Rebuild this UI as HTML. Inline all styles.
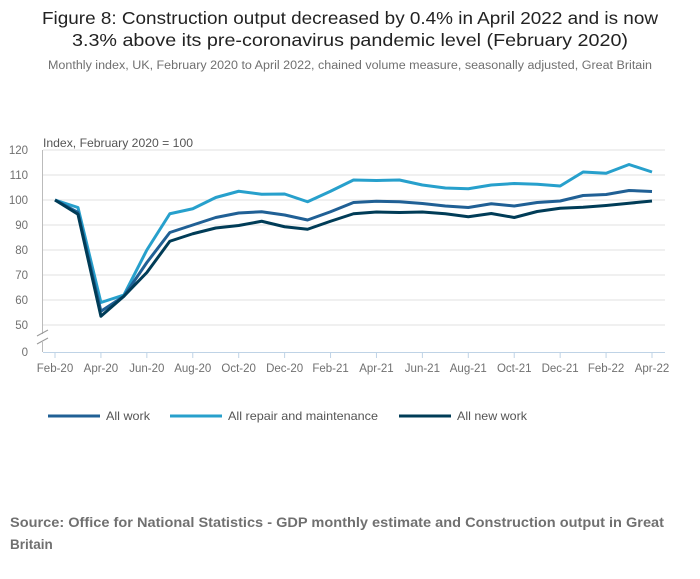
<!DOCTYPE html>
<html><head><meta charset="utf-8"><style>
body{margin:0;background:#fff;width:700px;height:574px;overflow:hidden;font-family:"Liberation Sans",sans-serif;}
</style></head><body>
<svg width="700" height="574" xmlns="http://www.w3.org/2000/svg">
<text x="350" y="24" text-anchor="middle" font-size="17.5" fill="#222" textLength="616" lengthAdjust="spacingAndGlyphs">Figure 8: Construction output decreased by 0.4% in April 2022 and is now</text>
<text x="350" y="46" text-anchor="middle" font-size="17.5" fill="#222" textLength="556" lengthAdjust="spacingAndGlyphs">3.3% above its pre-coronavirus pandemic level (February 2020)</text>
<text x="350" y="69" text-anchor="middle" font-size="11.5" fill="#707070" textLength="604" lengthAdjust="spacingAndGlyphs">Monthly index, UK, February 2020 to April 2022, chained volume measure, seasonally adjusted, Great Britain</text>
<text x="43" y="147" font-size="12" fill="#555" textLength="150" lengthAdjust="spacingAndGlyphs">Index, February 2020 = 100</text>
<g id="grid"></g><g id="lines"></g><g id="xaxis"></g>
<g>
<line x1="48" y1="416" x2="100" y2="416" stroke="#206095" stroke-width="3"/><text x="106" y="420" font-size="12" fill="#555" textLength="44" lengthAdjust="spacingAndGlyphs">All work</text>
<line x1="170" y1="416" x2="222" y2="416" stroke="#27a0cc" stroke-width="3"/><text x="228" y="420" font-size="12" fill="#555" textLength="150" lengthAdjust="spacingAndGlyphs">All repair and maintenance</text>
<line x1="399" y1="416" x2="451" y2="416" stroke="#003c57" stroke-width="3"/><text x="457" y="420" font-size="12" fill="#555" textLength="70" lengthAdjust="spacingAndGlyphs">All new work</text>
</g>
<text x="10" y="527" font-size="13.5" font-weight="bold" fill="#707070" textLength="654" lengthAdjust="spacingAndGlyphs">Source: Office for National Statistics - GDP monthly estimate and Construction output in Great</text>
<text x="10" y="549" font-size="13.5" font-weight="bold" fill="#707070">Britain</text>
</svg>
<script>
const months=["Feb-20","Mar-20","Apr-20","May-20","Jun-20","Jul-20","Aug-20","Sep-20","Oct-20","Nov-20","Dec-20","Jan-21","Feb-21","Mar-21","Apr-21","May-21","Jun-21","Jul-21","Aug-21","Sep-21","Oct-21","Nov-21","Dec-21","Jan-22","Feb-22","Mar-22","Apr-22"];
const repair=[100,97,59,62,80,94.5,96.5,101,103.5,102.3,102.4,99.3,103.5,108,107.8,108,106,104.8,104.5,106,106.6,106.3,105.6,111.2,110.7,114.2,111.2];
const allWork=[100,95,55.5,61.5,75,87,90,93,94.8,95.3,94,92,95.3,99,99.5,99.3,98.6,97.6,97,98.5,97.6,99,99.6,101.8,102.2,103.8,103.4];
const newWork=[100,94.3,53.5,61.5,71,83.5,86.5,88.8,89.8,91.5,89.3,88.3,91.5,94.5,95.2,95,95.2,94.5,93.3,94.6,93,95.4,96.7,97.1,97.8,98.7,99.6];
const yTicks=[120,110,100,90,80,70,60,50];
const NS="http://www.w3.org/2000/svg";
const x=i=>55+i*(652-55)/26;
const y=v=>v===0?352:150+(120-v)*2.5;
function mk(t,a,p){const e=document.createElementNS(NS,t);for(const k in a)e.setAttribute(k,a[k]);p.appendChild(e);return e;}
const grid=document.getElementById('grid');
yTicks.forEach(v=>{
 const l=mk('line',{x1:43,x2:665,y1:y(v),y2:y(v),stroke:'#e0e0e0'},grid);
 
 
 const t=mk('text',{x:28,y:y(v)+4,'text-anchor':'end','font-size':11.5,fill:'#707070'},grid);
 
 
 t.textContent=v;
});
const z=mk('text',{x:28,y:356,'text-anchor':'end','font-size':11.5,fill:'#707070'},grid);


z.textContent='0';
mk('line',{x1:42.5,x2:42.5,y1:150,y2:334,stroke:'#bbb'},grid);
mk('line',{x1:42.5,x2:42.5,y1:342,y2:352,stroke:'#bbb'},grid);
mk('line',{x1:37,x2:48,y1:336,y2:330,stroke:'#999'},grid);
mk('line',{x1:37,x2:48,y1:344,y2:338,stroke:'#999'},grid);
const xa=document.getElementById('xaxis');
mk('line',{x1:43,x2:665,y1:352.5,y2:352.5,stroke:'#bfd3e6'},xa);
months.forEach((m,i)=>{if(i%2)return;
 mk('line',{x1:x(i),x2:x(i),y1:352,y2:358,stroke:'#bfd3e6'},xa);
 const t=mk('text',{x:x(i),y:372,'text-anchor':'middle','font-size':11.5,fill:'#707070'},xa);
 
 
 t.textContent=m;});
const lines=document.getElementById('lines');
[[repair,'#27a0cc','line-repair-maintenance'],[allWork,'#206095','line-all-work'],[newWork,'#003c57','line-new-work']].forEach(([d,c,n])=>{
 const p=mk('polyline',{points:d.map((v,i)=>x(i)+','+y(v)).join(' '),fill:'none',stroke:c,'stroke-width':3,'stroke-linejoin':'round'},lines);
 
 
});
</script>
</body></html>
